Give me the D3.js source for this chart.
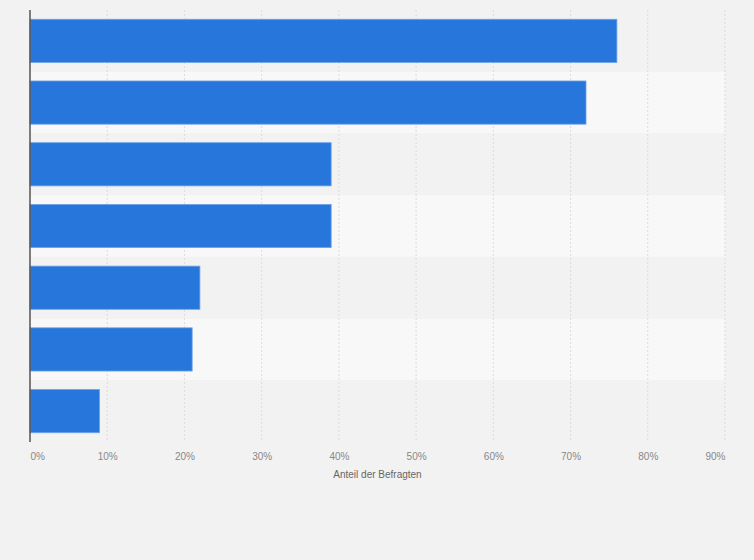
<!DOCTYPE html>
<html lang="de">
<head>
    <meta charset="UTF-8">
    <title>Anteil der Befragten</title>
    <script src="https://d3js.org/d3.v7.min.js"></script>
    <style>
        body { margin: 0; background: #f2f2f2; }
        svg { display: block; }
        .tick text { font: 10px "Liberation Sans", Arial, sans-serif; fill: #888; }
        .axis-title { font: 10px "Liberation Sans", Arial, sans-serif; fill: #666; }
    </style>
</head>
<body>
    <svg width="754" height="560"></svg>
    <script>
        // categories are not labelled in the picture, so just numbered here
        var categories = ["1", "2", "3", "4", "5", "6", "7"];
        var shares = [76, 72, 39, 39, 22, 21, 9];
        var tickValues = [0, 10, 20, 30, 40, 50, 60, 70, 80, 90];
        var axisTitle = "Anteil der Befragten";

        var margin = {top: 10, right: 29, bottom: 118, left: 30},
            width = 754 - margin.left - margin.right,
            height = 560 - margin.top - margin.bottom;

        var svg = d3.select("svg").append("g")
            .attr("transform", "translate(" + margin.left + "," + margin.top + ")");

        var x = d3.scaleLinear().domain([0, 90]).range([0, width]);
        var band = d3.scaleBand().domain(categories).range([0, height]);
        var y = d3.scaleBand().domain(categories).range([0, height]).paddingInner(0.3).paddingOuter(0.15);

        // alternating row backgrounds
        svg.selectAll(".row")
            .data(categories)
            .enter().append("rect")
            .attr("x", 0)
            .attr("y", d => band(d))
            .attr("width", width)
            .attr("height", band.bandwidth())
            .attr("fill", (d, i) => i % 2 ? "#f8f8f8" : "#f2f2f2");

        // vertical grid lines
        svg.selectAll(".grid")
            .data(tickValues.slice(1))
            .enter().append("line")
            .attr("x1", d => x(d)).attr("x2", d => x(d))
            .attr("y1", 0).attr("y2", height)
            .attr("stroke", "#dcdcdc")
            .attr("stroke-width", 1)
            .attr("stroke-dasharray", "2,2");

        svg.selectAll(".bar")
            .data(shares)
            .enter().append("rect")
            .attr("x", 0)
            .attr("y", (d, i) => y(categories[i]))
            .attr("width", d => x(d))
            .attr("height", y.bandwidth())
            .attr("fill", "#2776db")
            .attr("stroke", "#6fa3e8")
            .attr("stroke-width", 0.8);

        var xAxis = svg.append("g")
            .attr("transform", "translate(0," + height + ")")
            .call(d3.axisBottom(x).tickValues(tickValues).tickFormat(d => d + "%").tickSize(0).tickPadding(11));
        xAxis.select(".domain").remove();
        xAxis.selectAll(".tick text")
            .attr("text-anchor", d => d === 0 ? "start" : d === 90 ? "end" : "middle");

        // left axis line
        svg.append("line")
            .attr("x1", 0).attr("x2", 0)
            .attr("y1", 0).attr("y2", height)
            .attr("stroke", "#555")
            .attr("stroke-width", 1.5);

        svg.append("text")
            .attr("class", "axis-title")
            .attr("x", width / 2)
            .attr("y", height + 36)
            .attr("text-anchor", "middle")
            .text(axisTitle);
    </script>
</body>
</html>
